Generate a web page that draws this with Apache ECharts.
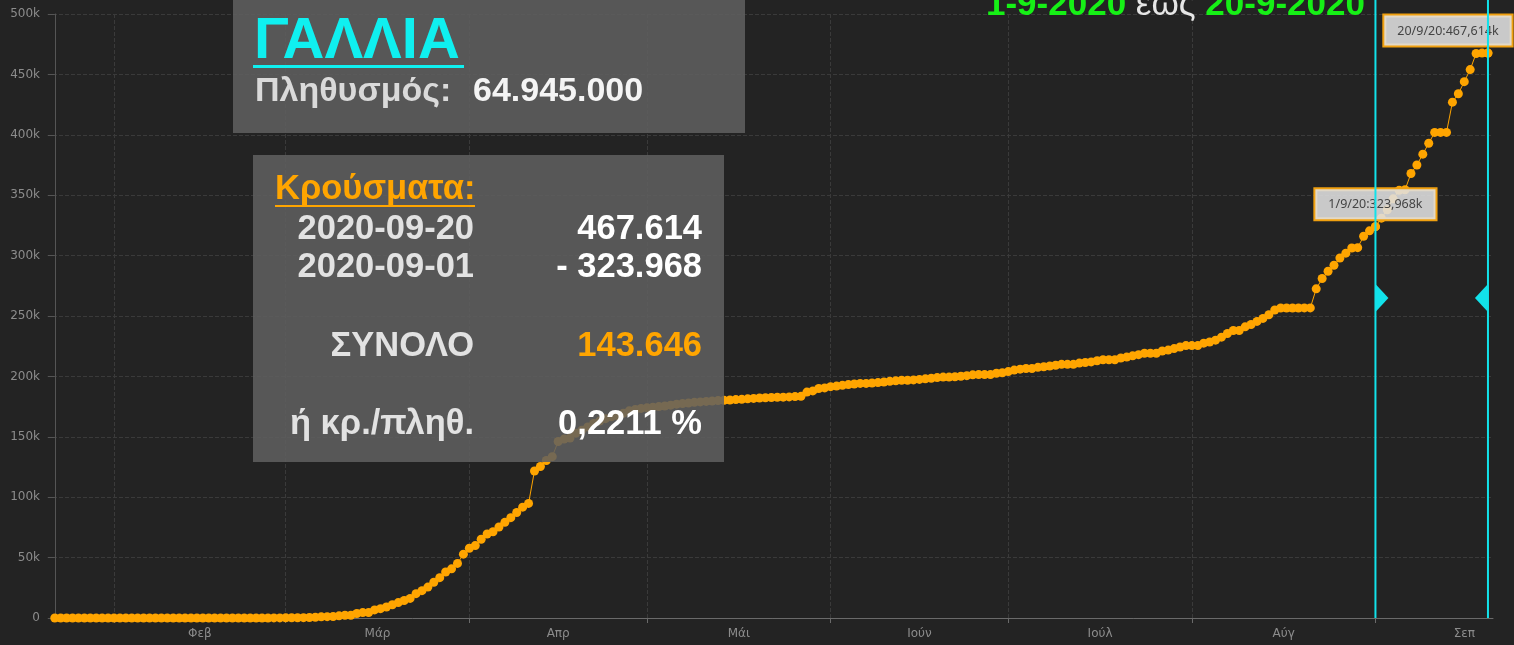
<!DOCTYPE html>
<html>
<head>
<meta charset="utf-8">
<title>ΓΑΛΛΙΑ</title>
<script src="https://cdn.jsdelivr.net/npm/echarts@6/dist/echarts.min.js"></script>
<style>
  html, body { margin: 0; padding: 0; background: #232323; }
  #chart { width: 1514px; height: 645px; }
</style>
</head>
<body>
<div id="chart"></div>
<script>
// ημερήσια αθροιστικά κρούσματα, από 22/1/2020
var startDate = "2020-01-22";
var casesJan = [0, 0, 2, 3, 3, 3, 4, 5, 5, 5];
var casesFeb = [6, 6, 6, 6, 6, 6, 6, 11, 11, 11, 11, 11, 11, 11, 12, 12, 12, 12, 12, 12, 12, 12, 12, 12, 14, 18, 38, 57, 100];
var casesMar = [130, 191, 204, 288, 380, 656, 959, 1136, 1219, 1794, 2293, 2293, 3681, 4496, 4532, 6683, 7715, 9124, 10970, 12758,
  14463, 16243, 20123, 22622, 25600, 29551, 33402, 38105, 40708, 45170, 52827];
var casesApr = [57749, 59929, 65202, 69500, 71412, 75343, 79163, 83057, 87366, 91738, 94863, 121712, 125394, 130365, 133585,
  146075, 148084, 149000, 153011, 155393, 158168, 161000, 163000, 165000, 166500, 167500, 169500, 171500, 172500, 173500];
var casesMay = [174000, 174500, 175000, 175500, 176200, 177000, 177500, 178000, 178500, 178900, 179300, 179600, 180000, 180200,
  180500, 180800, 181000, 181400, 181800, 182100, 182300, 182500, 182700, 182800, 183000, 183300, 183500, 187000, 188000, 190000, 190500];
var casesJun = [191500, 192000, 192600, 193200, 193700, 194200, 194200, 194500, 194900, 195400, 195900, 196300, 196800, 196800,
  197100, 197500, 198000, 198500, 199000, 199400, 199400, 199700, 200100, 200600, 201300, 201500, 201500, 201500, 202600, 203000];
var casesJul = [204000, 205200, 206000, 206500, 206500, 207500, 208000, 208600, 209200, 210000, 210000, 210000, 211000, 211500,
  212000, 213000, 213800, 213800, 213800, 215200, 216000, 217000, 218000, 219200, 219200, 219200, 221000, 221800, 223000, 224300, 225500];
var casesAug = [225500, 225500, 227500, 228500, 230000, 232500, 235500, 238000, 238000, 241000, 243000, 245500, 248000, 251000,
  255000, 256600, 256600, 256600, 256600, 256700, 256700, 272500, 281000, 287000, 292000, 298000, 302000, 306300, 306600, 316000, 320500];
var casesSep = [323968, 331000, 338000, 347000, 354000, 354500, 368000, 375000, 384000, 393000, 402000, 402000, 402000, 427000,
  434000, 444000, 454000, 467300, 467614, 467614];

var monthNames = ["Φεβ", "Μάρ", "Απρ", "Μάι", "Ιούν", "Ιούλ", "Αύγ", "Σεπ"];
var monthStarts = ["2020-02-01", "2020-03-01", "2020-04-01", "2020-05-01", "2020-06-01", "2020-07-01", "2020-08-01", "2020-09-01"];
var monthAfterLast = "2020-10-01";
var yTicks = [0, 50000, 100000, 150000, 200000, 250000, 300000, 350000, 400000, 450000, 500000];

var rangeDates = ["2020-09-01", "2020-09-20"];
var country = "ΓΑΛΛΙΑ";
var population = 64945000;

var DAY = 86400000;
function dayIndex(s) {
  return Math.round((Date.parse(s) - Date.parse(startDate)) / DAY);
}
function dots(n) {
  return String(n).replace(/\B(?=(\d{3})+(?!\d))/g, ".");
}
function tipText(s, v) {
  var p = s.split("-");
  return +p[2] + "/" + +p[1] + "/" + p[0].slice(2) + ":" + (v / 1000).toFixed(3).replace(".", ",") + "k";
}

var cases = [].concat(casesJan, casesFeb, casesMar, casesApr, casesMay, casesJun, casesJul, casesAug, casesSep);
var seriesData = cases.map(function (v, i) { return [i, v]; });
var tickDays = monthStarts.map(dayIndex);
var labelDays = monthStarts.map(function (s, i) {
  var next = i + 1 < monthStarts.length ? monthStarts[i + 1] : monthAfterLast;
  return (dayIndex(s) + dayIndex(next)) / 2;
});

var fromIdx = dayIndex(rangeDates[0]);
var toIdx = dayIndex(rangeDates[1]);
var fromVal = cases[fromIdx];
var toVal = cases[toIdx];
var total = toVal - fromVal;
var pct = Math.floor(total / population * 100 * 10000) / 10000;

var orange = "#ffa500";
var cyan = "#12e2ea";
var boxFill = "rgba(96,96,96,0.86)";
var fontBox = '"Liberation Sans", Arial, sans-serif';

var chart = echarts.init(document.getElementById("chart"));

var tipLabel = {
  show: true,
  position: "top",
  distance: 3,
  color: "#444",
  fontSize: 12.5,
  fontFamily: "Noto Sans",
  backgroundColor: "rgba(224,224,224,0.88)",
  borderColor: "#f0a010",
  borderWidth: 2,
  padding: [9, 13, 8, 13]
};

chart.setOption({
  backgroundColor: "#232323",
  animation: false,
  grid: { left: 53, right: 21, top: 14, bottom: 27 },
  xAxis: {
    type: "value",
    min: -0.3,
    max: cases.length - 1 + 0.85,
    axisLine: { lineStyle: { color: "#6a6a6a" } },
    axisTick: { customValues: tickDays, length: 5, lineStyle: { color: "#6a6a6a" } },
    axisLabel: {
      customValues: labelDays,
      color: "#8c8c8c",
      fontSize: 12,
      fontFamily: "DejaVu Sans",
      margin: 10,
      formatter: function (v) {
        var i = labelDays.indexOf(v);
        return i >= 0 ? monthNames[i] : "";
      }
    },
    splitLine: { show: true, lineStyle: { color: "#3a3a3a", type: "dashed" } }
  },
  yAxis: {
    type: "value",
    min: yTicks[0],
    max: yTicks[yTicks.length - 1],
    interval: yTicks[1] - yTicks[0],
    axisLine: { show: true, lineStyle: { color: "#555" } },
    axisTick: { show: true, length: 7, lineStyle: { color: "#555" } },
    axisLabel: {
      color: "#8c8c8c",
      fontSize: 12,
      fontFamily: "DejaVu Sans",
      margin: 13,
      formatter: function (v) { return v === 0 ? "0" : v / 1000 + "k"; }
    },
    splitLine: { lineStyle: { color: "#3a3a3a", type: "dashed" } }
  },
  series: [{
    type: "line",
    data: seriesData,
    symbol: "circle",
    symbolSize: 9,
    showAllSymbol: true,
    itemStyle: { color: orange },
    lineStyle: { color: orange, width: 1 },
    markPoint: {
      symbol: "circle",
      symbolSize: 9,
      itemStyle: { color: orange },
      data: [
        { coord: [fromIdx, fromVal], label: Object.assign({}, tipLabel, { formatter: tipText(rangeDates[0], fromVal) }) },
        { coord: [toIdx, toVal], label: Object.assign({}, tipLabel, { formatter: tipText(rangeDates[1], toVal), offset: [-40, 0] }) }
      ]
    }
  }]
});

// κάθετες γραμμές του διαστήματος, μέσω της κλίμακας του άξονα
var pFrom = chart.convertToPixel({ gridIndex: 0 }, [fromIdx, 0]);
var pTo = chart.convertToPixel({ gridIndex: 0 }, [toIdx, 0]);
var yTri = chart.convertToPixel({ gridIndex: 0 }, [fromIdx, 265000])[1];

function txt(id, text, x, y, size, color, align, weight) {
  return {
    type: "text", id: id, x: x, y: y, z: 110,
    style: {
      text: text, fill: color,
      font: (weight || "bold") + " " + size + "px " + fontBox,
      align: align, textAlign: align,
      verticalAlign: "middle", textVerticalAlign: "middle"
    }
  };
}

var big = 34.5;
var graphics = [
  { type: "line", id: "l1", z: 105, shape: { x1: pFrom[0], y1: 0, x2: pFrom[0], y2: pFrom[1] }, style: { stroke: cyan, lineWidth: 2 } },
  { type: "line", id: "l2", z: 105, shape: { x1: pTo[0], y1: 0, x2: pTo[0], y2: pTo[1] }, style: { stroke: cyan, lineWidth: 2 } },
  { type: "polygon", id: "t1", z: 105, shape: { points: [[pFrom[0], yTri - 14], [pFrom[0] + 13, yTri], [pFrom[0], yTri + 14]] }, style: { fill: cyan } },
  { type: "polygon", id: "t2", z: 105, shape: { points: [[pTo[0], yTri - 14], [pTo[0] - 13, yTri], [pTo[0], yTri + 14]] }, style: { fill: cyan } },

  { type: "rect", id: "b1", z: 100, shape: { x: 233, y: -10, width: 512, height: 143 }, style: { fill: boxFill } },
  { type: "rect", id: "b2", z: 100, shape: { x: 253, y: 155, width: 471, height: 307 }, style: { fill: boxFill } },

  txt("country", country, 254, 42, 58, "#0ff0f0", "left"),
  { type: "rect", id: "u1", z: 110, shape: { x: 253, y: 65, width: 211, height: 3 }, style: { fill: "#0ff0f0" } },
  txt("popl", "Πληθυσμός:", 255, 91.5, 34, "#dadada", "left"),
  txt("popv", dots(population), 473, 91.5, 34, "#f4f4f4", "left"),

  txt("hdr", "Κρούσματα:", 275, 189.5, big, orange, "left"),
  { type: "rect", id: "u2", z: 110, shape: { x: 275, y: 205, width: 200, height: 2 }, style: { fill: orange } },
  txt("d1", rangeDates[1], 474, 229.3, big, "#e2e2e2", "right"),
  txt("v1", dots(toVal), 702, 229.3, big, "#ffffff", "right"),
  txt("d2", rangeDates[0], 474, 267.3, big, "#e2e2e2", "right"),
  txt("v2", "- " + dots(fromVal), 702, 267.3, big, "#ffffff", "right"),
  txt("sl", "ΣΥΝΟΛΟ", 474, 346.3, big, "#e2e2e2", "right"),
  txt("sv", dots(total), 702, 346.3, big, orange, "right"),
  txt("pl", "ή κρ./πληθ.", 474, 424.3, big, "#e2e2e2", "right"),
  txt("pv", pct.toFixed(4).replace(".", ",") + " %", 702, 424.3, big, "#ffffff", "right"),

  {
    type: "text", id: "title", x: 986, y: 5, z: 110,
    style: {
      text: "{g|1-9-2020}{w| έως }{g|20-9-2020}",
      align: "left", textAlign: "left", verticalAlign: "middle", textVerticalAlign: "middle",
      rich: {
        g: { fill: "#16f016", font: "bold 35px " + fontBox },
        w: { fill: "#e6e6e6", font: "35px " + fontBox }
      }
    }
  }
];

chart.setOption({ graphic: graphics });
</script>
</body>
</html>
